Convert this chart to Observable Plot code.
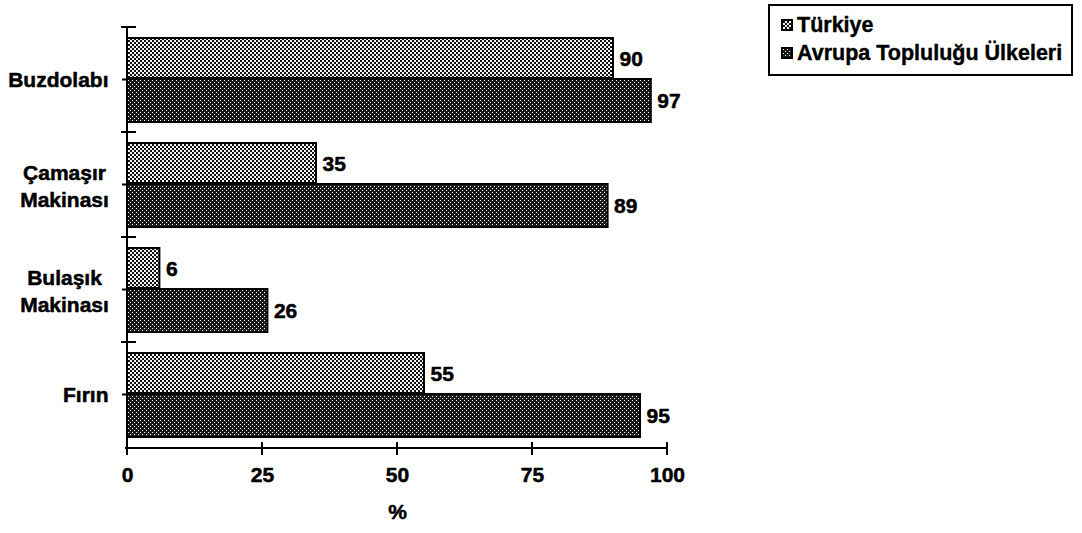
<!DOCTYPE html>
<html>
<head>
<meta charset="utf-8">
<script src="https://cdn.jsdelivr.net/npm/d3@7"></script>
<script src="https://cdn.jsdelivr.net/npm/@observablehq/plot@0.6"></script>
<style>
  body { margin: 0; background: #fff; font-family: "Liberation Sans", Arial, sans-serif; }
  #wrap { position: relative; width: 1082px; height: 533px; overflow: hidden; }
  #legend { position: absolute; left: 768px; top: 4px; width: 301px; height: 68px;
            border: 2px solid #000; font-weight: bold; font-size: 21.5px; color: #000; background: #fff;
            -webkit-text-stroke: 0.4px #000; }
  .lt { position: absolute; left: 27px; line-height: 24px; white-space: nowrap; }
  .sw { position: absolute; left: 11px; width: 12px; height: 12px; display: block; }
</style>
</head>
<body>
<div id="wrap"></div>
<script>
// ---- data ----
const categories = ["Buzdolabı", "Çamaşır Makinası", "Bulaşık Makinası", "Fırın"];
const categoryLabels = ["Buzdolabı", "Çamaşır\nMakinası", "Bulaşık\nMakinası", "Fırın"];
const seriesNames = ["Türkiye", "Avrupa Topluluğu Ülkeleri"];
const turkiyeValues = [90, 35, 6, 55];
const avrupaValues = [97, 89, 26, 95];
const xTicks = [0, 25, 50, 75, 100];
const xLabel = "%";

const turkiyeData = categories.map((c, i) => ({category: c, series: seriesNames[0], value: turkiyeValues[i]}));
const avrupaData = categories.map((c, i) => ({category: c, series: seriesNames[1], value: avrupaValues[i]}));
const fills = {[seriesNames[0]]: "url(#patT)", [seriesNames[1]]: "url(#patA)"};

const isMulti = (d, i) => categoryLabels[i].includes("\n");
const textStyle = {fontSize: 21, fontWeight: "bold", fill: "#000", stroke: "#000", strokeWidth: 0.5};

const axes = (index, scales, values, dims) => {
  const {x, y} = scales;
  const g = d3.create("svg:g").attr("stroke", "#000").attr("stroke-width", 2).attr("fill", "none");
  const bottom = dims.height - dims.marginBottom;
  const x0 = x(xTicks[0]);
  const bw = typeof y.bandwidth === "function" ? y.bandwidth() : (bottom - dims.marginTop) / categories.length;
  const edges = categories.map(c => y(c));
  edges.push(y(categories[categories.length - 1]) + bw);
  g.append("line").attr("x1", x0).attr("x2", x0).attr("y1", edges[0]).attr("y2", bottom);
  g.append("line").attr("x1", x0 - 2).attr("x2", x(xTicks[xTicks.length - 1])).attr("y1", bottom).attr("y2", bottom);
  for (const t of xTicks) {
    g.append("line").attr("x1", x(t)).attr("x2", x(t)).attr("y1", bottom - 6).attr("y2", bottom + 7);
  }
  for (const e of edges.slice(0, -1)) {
    g.append("line").attr("x1", x0 - 6).attr("x2", x0 + 9).attr("y1", e).attr("y2", e);
  }
  for (const c of categories) {
    const m = y(c) + bw / 2;
    g.append("line").attr("x1", x0 - 5).attr("x2", x0).attr("y1", m).attr("y2", m);
  }
  return g.node();
};

const chart = Plot.plot({
  width: 1082,
  height: 533,
  marginLeft: 127,
  marginRight: 415,
  marginTop: 25,
  marginBottom: 85,
  style: {fontFamily: "'Liberation Sans', Arial, sans-serif", fontSize: "21px", fontWeight: "bold", background: "transparent", overflow: "visible"},
  x: {domain: [xTicks[0], xTicks[xTicks.length - 1]], axis: null},
  y: {domain: categories, padding: 0, axis: null},
  marks: [
    Plot.barX(turkiyeData, {x: "value", y: "category", fill: d => fills[d.series], stroke: "#000", strokeWidth: 2, insetTop: 11, insetBottom: 54}),
    Plot.barX(avrupaData, {x: "value", y: "category", fill: d => fills[d.series], stroke: "#000", strokeWidth: 2, insetTop: 52, insetBottom: 10}),
    Plot.text(turkiyeData, {x: "value", y: "category", text: d => String(d.value), dx: 6, dy: -21, textAnchor: "start", ...textStyle}),
    Plot.text(avrupaData, {x: "value", y: "category", text: d => String(d.value), dx: 6, dy: 21, textAnchor: "start", ...textStyle}),
    Plot.text(categories, {y: d => d, text: (d, i) => categoryLabels[i], filter: (d, i) => !isMulti(d, i), frameAnchor: "left", dx: -19, textAnchor: "end", ...textStyle}),
    Plot.text(categories, {y: d => d, text: (d, i) => categoryLabels[i], filter: isMulti, frameAnchor: "left", dx: -63, textAnchor: "middle", lineHeight: 1.3, ...textStyle}),
    Plot.text(xTicks, {x: d => d, text: d => String(d), frameAnchor: "bottom", dy: 33, ...textStyle}),
    Plot.text([xLabel], {text: d => d, frameAnchor: "bottom", dy: 70, ...textStyle}),
    axes
  ]
});

const defs = d3.select(chart).insert("defs", ":first-child");
const pT = defs.append("pattern").attr("id", "patT").attr("patternUnits", "userSpaceOnUse").attr("width", 4).attr("height", 4);
pT.append("rect").attr("width", 4).attr("height", 4).attr("fill", "#f4f4f4");
pT.append("rect").attr("width", 2).attr("height", 2).attr("fill", "#111");
pT.append("rect").attr("x", 2).attr("y", 2).attr("width", 2).attr("height", 2).attr("fill", "#111");
const pA = defs.append("pattern").attr("id", "patA").attr("patternUnits", "userSpaceOnUse").attr("width", 4).attr("height", 4);
pA.append("rect").attr("width", 4).attr("height", 4).attr("fill", "#1a1a1a");
pA.append("rect").attr("x", 0).attr("y", 0).attr("width", 1).attr("height", 1).attr("fill", "#fff");
pA.append("rect").attr("x", 2).attr("y", 2).attr("width", 1).attr("height", 1).attr("fill", "#fff");

const wrap = document.getElementById("wrap");
wrap.appendChild(chart);

// legend
const legend = document.createElement("div");
legend.id = "legend";
const tops = [6.5, 34.5];
const swTops = [13, 41];
seriesNames.forEach((name, i) => {
  const sw = document.createElementNS("http://www.w3.org/2000/svg", "svg");
  sw.setAttribute("class", "sw");
  sw.setAttribute("width", 12);
  sw.setAttribute("height", 12);
  sw.style.top = swTops[i] + "px";
  const r = document.createElementNS("http://www.w3.org/2000/svg", "rect");
  r.setAttribute("x", 1); r.setAttribute("y", 1); r.setAttribute("width", 10); r.setAttribute("height", 10);
  r.setAttribute("fill", fills[name]); r.setAttribute("stroke", "#000"); r.setAttribute("stroke-width", 2);
  sw.appendChild(r);
  legend.appendChild(sw);
  const t = document.createElement("div");
  t.className = "lt";
  t.style.top = tops[i] + "px";
  t.textContent = name;
  legend.appendChild(t);
});
wrap.appendChild(legend);
</script>
</body>
</html>
